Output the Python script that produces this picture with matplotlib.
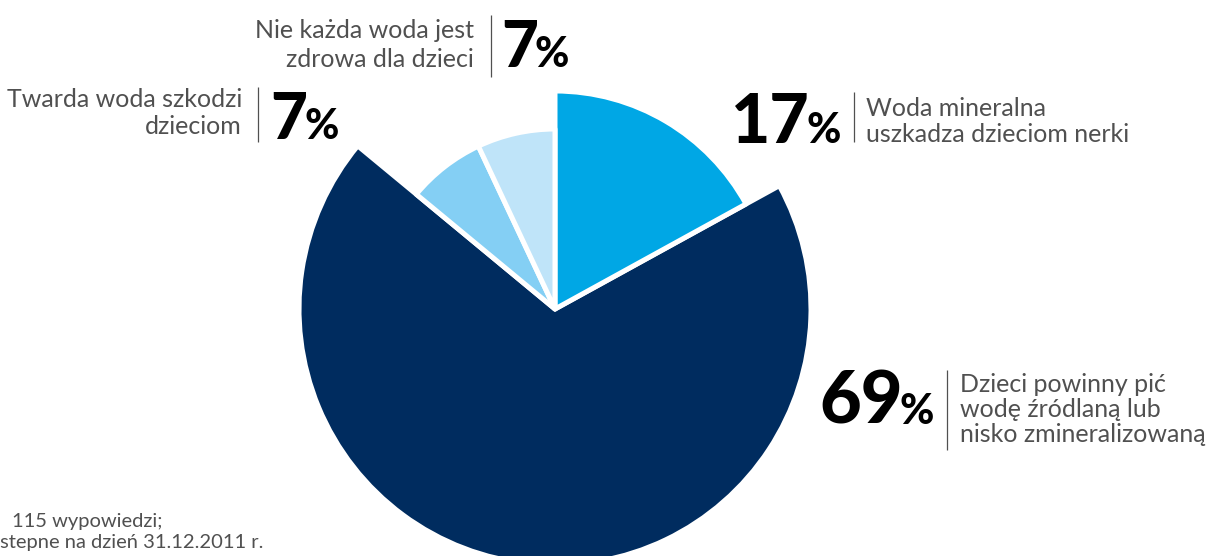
import matplotlib
matplotlib.use("Agg")
import matplotlib.pyplot as plt

# Dane: odpowiedzi (w %), kolejnosc zgodnie z ruchem wskazowek zegara od godz. 12
labels = [
    "Woda mineralna\nuszkadza dzieciom nerki",
    "Dzieci powinny pić\nwodę źródlaną lub\nnisko zmineralizowaną",
    "Twarda woda szkodzi\ndzieciom",
    "Nie każda woda jest\nzdrowa dla dzieci",
]
values = [17, 69, 7, 7]
colors = ["#00A7E5", "#002C5F", "#84CFF4", "#BFE4F9"]
radii = [218, 256, 180, 180]

W, H = 1211, 556
LABEL = "#505050"

fig = plt.figure(figsize=(W / 100, H / 100), dpi=100)
ax = fig.add_axes([0, 0, 1, 1])

center = (555, H - 309)
# kazdy wycinek ma inny promien -> osobne wywolanie pie, pozostale ukryte
for i, r in enumerate(radii):
    wedges, _ = ax.pie(values, colors=colors, radius=r, center=center,
                       startangle=90, counterclock=False,
                       wedgeprops=dict(edgecolor="white", linewidth=3.6,
                                       joinstyle="round"))
    for j, w in enumerate(wedges):
        w.set_visible(j == i)
        w.set_zorder(2 if j == 1 else 3)

ax.set_xlim(0, W)
ax.set_ylim(0, H)
ax.set_aspect("equal")
ax.axis("off")

renderer = fig.canvas.get_renderer()


def label_block(lines, x, baselines, ha):
    for line, yb in zip(lines, baselines):
        ax.text(x, H - yb, line, ha=ha, va="baseline", fontsize=18,
                family="Lato", color=LABEL)


def percent(value, x, baseline, size=45):
    t = ax.text(x, H - baseline, str(value), ha="left", va="baseline",
                fontsize=size, family="Lato", weight="black", color="black")
    # znak % tuz za liczba
    x_end = t.get_window_extent(renderer).x1
    ax.text(x_end - 3, H - baseline, "%", ha="left", va="baseline",
            fontsize=30, family="Lato", weight="black", color="black")


def bar(x, y1, y2):
    ax.vlines(x, H - y2, H - y1, color=LABEL, linewidth=0.9)


# 17%
percent(values[0], 731, 143, size=49)
bar(854, 92, 142)
label_block(labels[0].split("\n"), 866, [116, 142], "left")

# 69%
percent(values[1], 819, 424, size=52)
bar(947, 370, 450)
label_block(labels[1].split("\n"), 960, [392, 417, 442], "left")

# Twarda woda 7%
percent(values[2], 270, 139, size=46)
bar(258, 87, 142)
label_block(labels[2].split("\n"), 242, [107, 134], "right")

# Nie kazda woda 7%
percent(values[3], 501, 67, size=46)
bar(491, 15, 77)
label_block(labels[3].split("\n"), 474, [38, 67], "right")

# przypis (uciety w oryginale)
ax.text(12, H - 527, "115 wypowiedzi;", fontsize=14.5, family="Lato",
        color=LABEL, va="baseline")
ax.text(0, H - 548, "stepne na dzień 31.12.2011 r.", fontsize=14.5,
        family="Lato", color=LABEL, va="baseline")

fig.savefig("out.png", dpi=100)
plt.close(fig)
